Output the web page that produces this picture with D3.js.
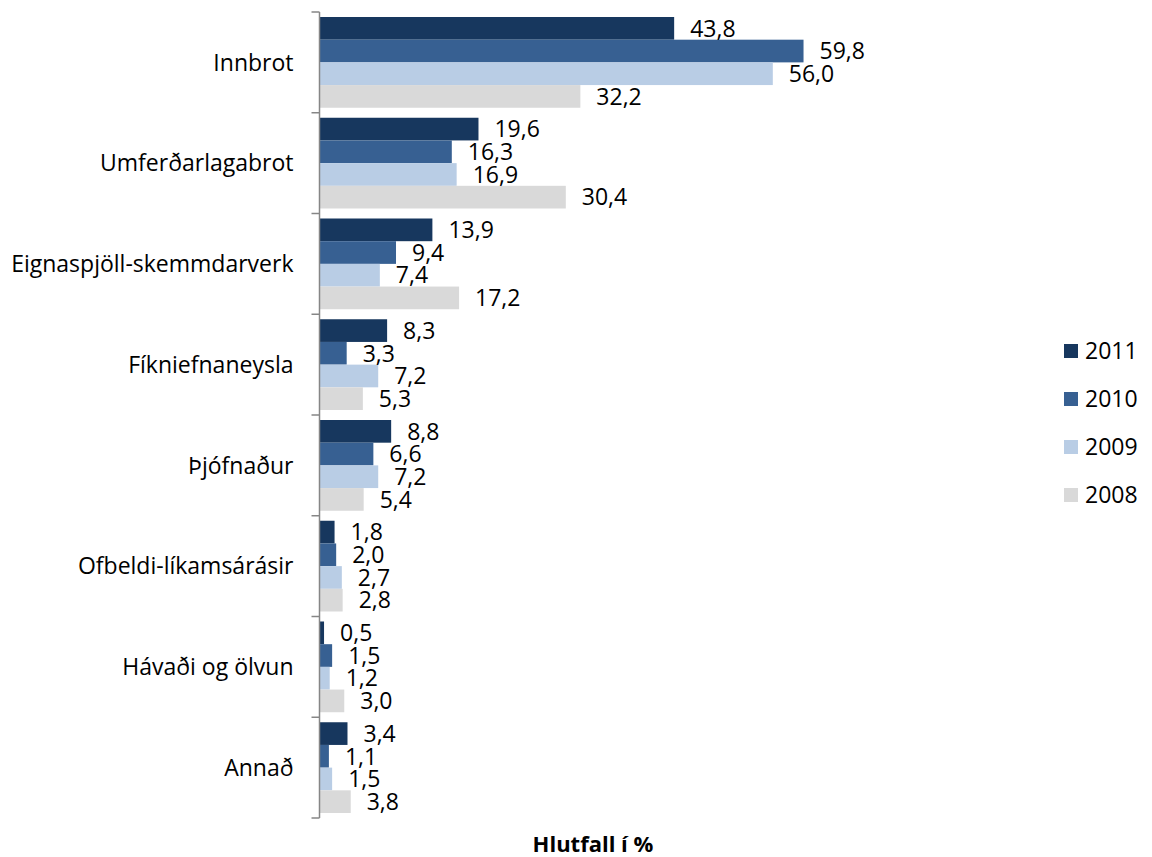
<!DOCTYPE html>
<html><head><meta charset="utf-8">
<script src="https://cdn.jsdelivr.net/npm/d3@7"></script>
<style>body{margin:0;background:#fff}svg{display:block}text{font-family:"Open Sans",sans-serif}</style>
</head><body><svg id="c" width="1152" height="857"></svg>
<script>
const categories = ["Innbrot","Umferðarlagabrot","Eignaspjöll-skemmdarverk","Fíkniefnaneysla","Þjófnaður","Ofbeldi-líkamsárásir","Hávaði og ölvun","Annað"];
const seriesNames = ["2011","2010","2009","2008"];
const v2011 = [43.8,19.6,13.9,8.3,8.8,1.8,0.5,3.4];
const v2010 = [59.8,16.3,9.4,3.3,6.6,2.0,1.5,1.1];
const v2009 = [56.0,16.9,7.4,7.2,7.2,2.7,1.2,1.5];
const v2008 = [32.2,30.4,17.2,5.3,5.4,2.8,3.0,3.8];
const colors = ["#17375E","#376092","#B9CDE5","#D9D9D9"];
const xTitle = "Hlutfall í %";

const values = [v2011,v2010,v2009,v2008];
const svg = d3.select("#c");
const x = d3.scaleLinear().domain([0,70]).range([320,886]);
const y = d3.scaleBand().domain(categories).range([12,818]).padding(0);
const yi = d3.scaleBand().domain(seriesNames).range([5, y.bandwidth()-5]).padding(0);
const fmt = v => d3.format(".1f")(v).replace(".", ",");
const FS = 23;

const g = svg.append("g");
categories.forEach((c,ci)=>{
  seriesNames.forEach((s,si)=>{
    const val = values[si][ci];
    const y0 = y(c)+yi(s);
    g.append("rect").attr("x",x(0)).attr("y",y0).attr("width",x(val)-x(0)).attr("height",yi.bandwidth())
      .attr("fill",colors[si]);
  });
});
categories.forEach((c,ci)=>{
  seriesNames.forEach((s,si)=>{
    const val = values[si][ci];
    const y0 = y(c)+yi(s);
    g.append("text").attr("x",x(val)+16).attr("y",y0+yi.bandwidth()/2).attr("dy","0.36em")
      .attr("font-size",FS).attr("fill","#000").text(fmt(val));
  });
});

const axis = d3.axisLeft(y).tickSize(0).tickPadding(26);
const ag = svg.append("g").attr("transform",`translate(${x(0)-0.5},0)`).call(axis);
ag.select(".domain").attr("stroke","#868686").attr("stroke-width",1.5).attr("d",`M0,12V818`);
ag.selectAll(".tick text").attr("font-size",FS).attr("fill","#000").attr("dy","0.36em").style("font-family",'"Open Sans",sans-serif');
const bounds = categories.map(c=>y(c)).concat([y.range()[1]]);
ag.selectAll(".bt").data(bounds).enter().append("line").attr("class","bt")
  .attr("x1",-8).attr("x2",0).attr("y1",d=>d).attr("y2",d=>d).attr("stroke","#868686").attr("stroke-width",1.5);

const lg = svg.append("g");
seriesNames.forEach((s,i)=>{
  const cy = 351 + i*48;
  lg.append("rect").attr("x",1064).attr("y",cy-7).attr("width",14).attr("height",14).attr("fill",colors[i]);
  lg.append("text").attr("x",1085).attr("y",cy).attr("dy","0.36em").attr("font-size",FS).text(s);
});

svg.append("text").attr("x",593).attr("y",852).attr("text-anchor","middle").attr("font-size",22)
  .attr("font-weight","bold").text(xTitle);
</script></body></html>
